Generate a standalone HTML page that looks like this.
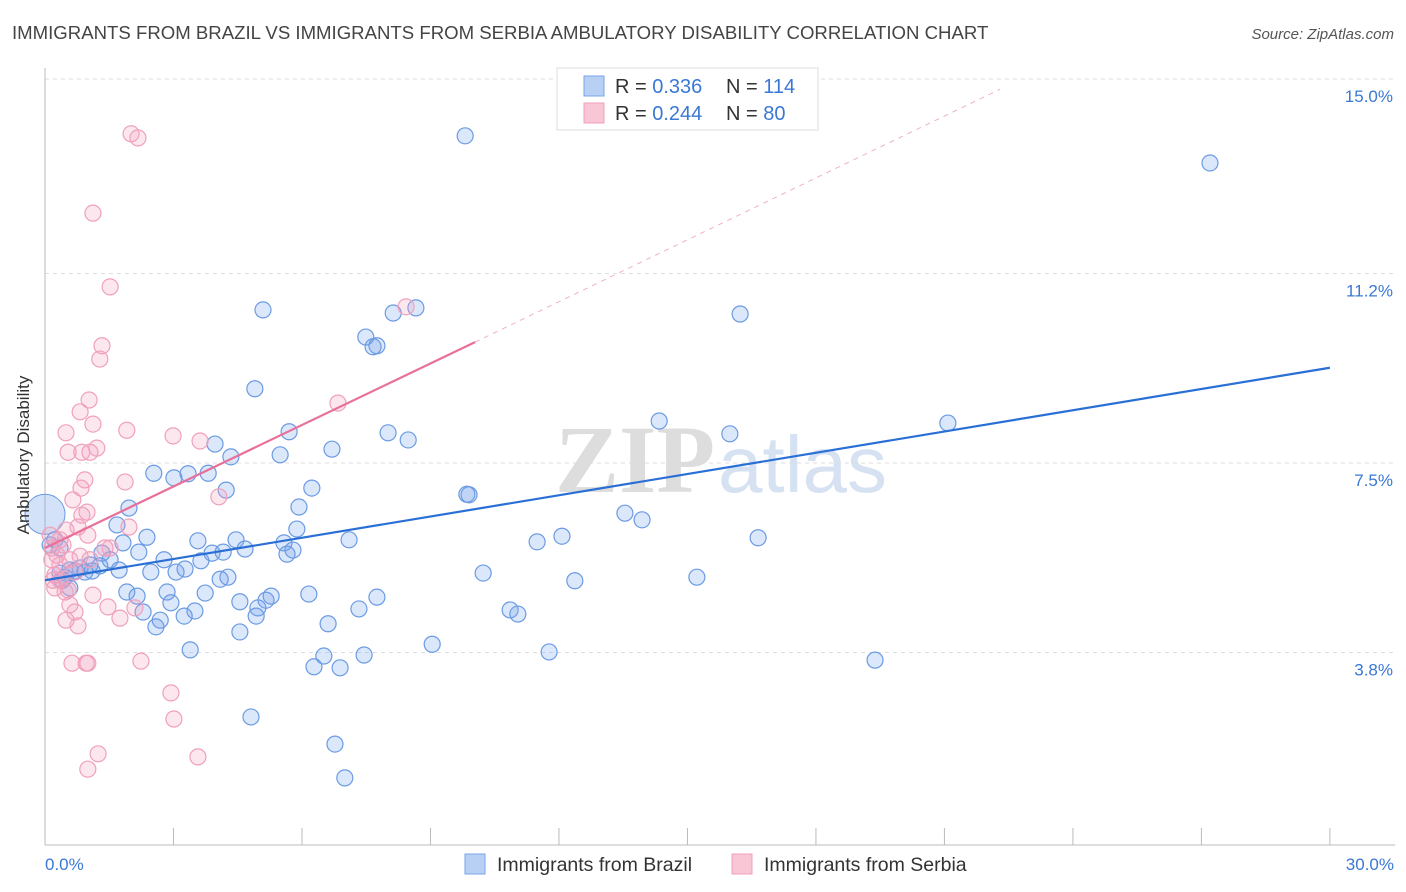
<!DOCTYPE html>
<html><head><meta charset="utf-8"><style>
body{margin:0;background:#fff;font-family:"Liberation Sans",sans-serif;}
svg{display:block}
</style></head><body>
<svg width="1406" height="892" xmlns="http://www.w3.org/2000/svg">
<text x="12" y="39" font-size="18.6" fill="#444">IMMIGRANTS FROM BRAZIL VS IMMIGRANTS FROM SERBIA AMBULATORY DISABILITY CORRELATION CHART</text>
<text x="1394" y="39" font-size="15" fill="#555" font-style="italic" text-anchor="end">Source: ZipAtlas.com</text>
<g>
<text x="555" y="492" font-size="96" fill="#ddd" font-family="Liberation Serif,serif" font-weight="bold">ZIP</text>
<text x="718" y="492" font-size="80" fill="#d6e2f2">atlas</text>
</g>
<g id="grid"></g>
<g id="axes"></g>
<g id="marks"></g>
<text transform="translate(29,455) rotate(-90)" font-size="17" fill="#333" text-anchor="middle">Ambulatory Disability</text>
<text x="45" y="870" font-size="17" fill="#3a78d4">0.0%</text>
<text x="1394" y="870" font-size="17" fill="#3a78d4" text-anchor="end">30.0%</text>
<g>
<rect x="557" y="68" width="261" height="62" fill="#fff" stroke="#ddd"/>
<rect x="584" y="76" width="20" height="20" fill="#b8d0f4" stroke="#7aa5e8"/>
<rect x="584" y="103" width="20" height="20" fill="#f9c6d6" stroke="#f0a0bb"/>
<text x="615" y="93" font-size="20" fill="#333">R = <tspan fill="#3a78d4">0.336</tspan><tspan x="726">N = </tspan><tspan fill="#3a78d4">114</tspan></text>
<text x="615" y="120" font-size="20" fill="#333">R = <tspan fill="#3a78d4">0.244</tspan><tspan x="726">N = </tspan><tspan fill="#3a78d4"> 80</tspan></text>
</g>
<g>
<rect x="465" y="854" width="20" height="20" fill="#b8d0f4" stroke="#7aa5e8"/>
<text x="497" y="871" font-size="19.5" fill="#333">Immigrants from Brazil</text>
<rect x="732" y="854" width="20" height="20" fill="#f9c6d6" stroke="#f0a0bb"/>
<text x="764" y="871" font-size="19.5" fill="#333">Immigrants from Serbia</text>
</g>
</svg>
<script>
const yTicks=[3.8,7.5,11.2,15.0];
const yTickLabels=["3.8%","7.5%","11.2%","15.0%"];
const xTicks=[0,3,6,9,12,15,18,21,24,27,30];
const brazilX=[9.81,27.2,5.09,8.66,8.13,16.23,7.49,7.75,7.66,4.90,14.34,21.08,15.99,5.70,8.01,8.48,3.97,4.34,5.49,6.70,2.54,3.81,3.34,3.01,6.23,4.23,9.90,9.85,5.93,1.96,13.54,13.94,12.07,11.49,16.65,7.10,1.68,2.38,4.46,3.57,1.82,5.88,5.58,4.67,3.90,4.16,5.79,5.65,2.19,2.78,1.33,1.52,1.28,1.10,0.70,0.93,0.47,0.35,1.73,2.47,3.06,3.27,3.64,4.27,4.09,10.23,12.37,15.22,0.58,1.91,2.85,2.15,3.74,4.55,5.28,5.16,6.16,7.75,2.94,2.29,3.50,7.33,4.97,10.86,11.04,2.69,3.25,4.93,2.59,6.61,4.55,9.04,3.39,6.51,7.45,11.77,6.28,6.89,19.38,4.81,6.77,7.00,0.23,0.35,0.12,0.82,1.05,0.58,0.40];
const brazilY=[13.89,13.36,10.49,10.53,10.43,10.41,9.96,9.79,9.77,8.95,8.32,8.28,8.07,8.11,8.09,7.95,7.87,7.62,7.66,7.77,7.30,7.30,7.29,7.21,7.01,6.97,6.88,6.89,6.64,6.62,6.52,6.39,6.07,5.96,6.04,6.00,6.29,6.05,6.00,5.98,5.94,6.21,5.94,5.82,5.74,5.76,5.80,5.72,5.76,5.61,5.74,5.61,5.49,5.39,5.39,5.37,5.27,5.35,5.41,5.37,5.37,5.43,5.59,5.27,5.23,5.35,5.20,5.27,5.06,4.98,4.98,4.90,4.96,4.79,4.90,4.82,4.94,4.88,4.77,4.59,4.61,4.65,4.67,4.63,4.55,4.43,4.51,4.51,4.30,4.36,4.20,3.96,3.85,3.73,3.75,3.81,3.52,3.50,3.65,2.54,2.01,1.35,6.00,5.84,5.90,5.45,5.51,5.41,5.21];
const serbiaX=[2.01,2.17,1.12,1.52,8.43,1.33,1.28,6.84,1.03,0.82,1.91,0.49,1.12,2.99,3.62,1.21,0.54,0.86,1.05,0.93,1.87,0.84,4.06,0.65,0.98,0.86,1.96,0.77,0.49,1.00,0.12,0.35,0.16,1.52,1.40,0.82,1.05,0.35,0.58,0.70,0.23,0.35,0.47,0.23,0.54,1.12,0.58,0.70,1.47,2.10,0.49,0.77,1.75,0.63,0.96,1.00,2.24,2.94,3.01,1.24,1.00,3.57,0.19,0.28,0.16,0.42];
const serbiaY=[13.93,13.85,12.38,10.94,10.55,9.79,9.53,8.67,8.73,8.50,8.14,8.09,8.26,8.03,7.93,7.79,7.71,7.71,7.71,7.17,7.13,7.01,6.84,6.78,6.54,6.48,6.25,6.25,6.19,6.09,6.09,6.00,5.84,5.84,5.84,5.68,5.61,5.51,5.61,5.37,5.31,5.21,4.98,5.06,5.02,4.92,4.73,4.59,4.69,4.67,4.43,4.32,4.47,3.59,3.59,3.59,3.63,3.01,2.50,1.82,1.52,1.76,5.21,5.70,5.61,5.90];
const brazilTrend=[[0,5.21],[30,9.36]];
const serbiaTrend=[[0,5.84],[10.04,9.86]];
const serbiaTrendExt=[[10.04,9.86],[22.3,14.8]];
const NS="http://www.w3.org/2000/svg";
const X=v=>45+v*42.83, Y=v=>847-v*51.2;
function mk(tag,attrs,parent){const e=document.createElementNS(NS,tag);for(const k in attrs)e.setAttribute(k,attrs[k]);parent.appendChild(e);return e;}
const grid=document.getElementById('grid'),axes=document.getElementById('axes'),marks=document.getElementById('marks');
yTicks.forEach((t,i)=>{
 const l=mk('line',{x1:45,x2:1395,y1:Y(t),y2:Y(t),stroke:'#ddd','stroke-dasharray':'4,4'},grid);
 
 
 const tx=mk('text',{x:1393,y:Y(t)+23,'font-size':17,fill:'#3a78d4','text-anchor':'end'},axes);
 tx.textContent=yTickLabels[i];
 
 
});
const xa=mk('line',{x1:45,x2:1395,y1:845,y2:845,stroke:'#bbb'},axes);


const ya=mk('line',{x1:45,x2:45,y1:68,y2:845,stroke:'#bbb'},axes);


xTicks.forEach(t=>{
 const l=mk('line',{x1:X(t),x2:X(t),y1:828,y2:845,stroke:'#bbb'},axes);
 
 
});
function pts(xs,ys,fill,stroke,name){
 xs.forEach((x,i)=>{
  const c=mk('circle',{cx:X(x),cy:Y(ys[i]),r:8,fill:fill,stroke:stroke,'stroke-width':1.2},marks);
  
  
 });
}
pts(brazilX,brazilY,'rgba(110,160,235,0.25)','#6b9be3','brazil-point');
const big=mk('circle',{cx:X(0),cy:Y(6.5),r:20,fill:'rgba(110,160,235,0.3)',stroke:'#6b9be3'},marks);


pts(serbiaX,serbiaY,'rgba(245,160,190,0.25)','#f0a0bb','serbia-point');
function line(p,stroke,w,dash,name){
 const l=mk('line',{x1:X(p[0][0]),y1:Y(p[0][1]),x2:X(p[1][0]),y2:Y(p[1][1]),stroke:stroke,'stroke-width':w},marks);
 if(dash)l.setAttribute('stroke-dasharray',dash);
 
 
}
line(brazilTrend,'#2a6fd6',2.2,null,'brazil-trendline');
line(serbiaTrend,'#e8709a',2.2,null,'serbia-trendline');
line(serbiaTrendExt,'#f0b0c5',1,'5,5','serbia-trendline-extension');
</script>
</body></html>
